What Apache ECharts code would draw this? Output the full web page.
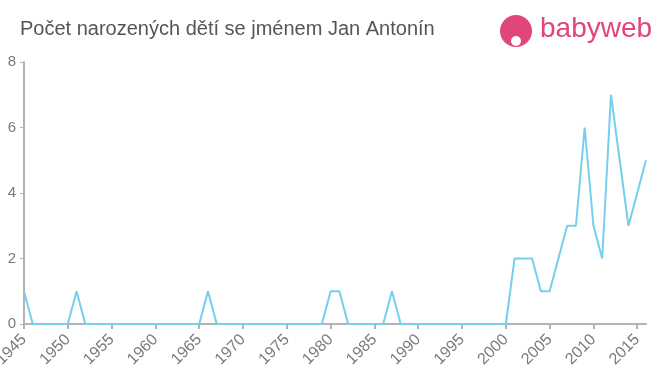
<!DOCTYPE html>
<html>
<head>
<meta charset="utf-8">
<script src="https://cdn.jsdelivr.net/npm/echarts@6/dist/echarts.min.js"></script>
<style>
html,body{margin:0;padding:0;background:#fff;}
#chart{width:660px;height:375px;}
</style>
</head>
<body>
<div id="chart"></div>
<script>
const years = [1945,1946,1947,1948,1949,1950,1951,1952,1953,1954,1955,1956,1957,1958,1959,1960,1961,1962,1963,1964,1965,1966,1967,1968,1969,1970,1971,1972,1973,1974,1975,1976,1977,1978,1979,1980,1981,1982,1983,1984,1985,1986,1987,1988,1989,1990,1991,1992,1993,1994,1995,1996,1997,1998,1999,2000,2001,2002,2003,2004,2005,2006,2007,2008,2009,2010,2011,2012,2013,2014,2015,2016];
const counts = [1,0,0,0,0,0,1,0,0,0,0,0,0,0,0,0,0,0,0,0,0,1,0,0,0,0,0,0,0,0,0,0,0,0,0,1,1,0,0,0,0,0,1,0,0,0,0,0,0,0,0,0,0,0,0,0,2,2,2,1,1,2,3,3,6,3,2,7,5,3,4,5];
const titleText = 'Počet narozených dětí se jménem Jan Antonín';
const logoText = 'babyweb';

const chart = echarts.init(document.getElementById('chart'));
chart.setOption({
  animation: false,
  title: {
    text: titleText, left: 15, top: 14,
    textStyle: {fontFamily: 'Liberation Sans, Arial, sans-serif', fontSize: 20, fontWeight: 'normal', color: '#555'}
  },
  graphic: [
    {type: 'circle', shape: {cx: 516, cy: 31, r: 16}, style: {fill: '#e0457b'}},
    {type: 'circle', shape: {cx: 516, cy: 41, r: 5}, style: {fill: '#fff'}},
    {type: 'text', left: 540, top: 15, style: {text: logoText, fontFamily: 'Liberation Sans, Arial, sans-serif', fontSize: 28, fill: '#e0457b'}}
  ],
  grid: {left: 24, right: 14, top: 62, bottom: 51, containLabel: false, outerBoundsMode: 'none'},
  xAxis: {
    type: 'value', min: 1945, max: 2016, interval: 5,
    axisLine: {lineStyle: {color: '#b3b3b3', width: 2}},
    axisTick: {show: true, length: 5, lineStyle: {color: '#b3b3b3', width: 2}},
    splitLine: {show: false},
    axisLabel: {rotate: 45, color: '#7a7a7a', fontSize: 16, fontFamily: 'Liberation Sans, Arial, sans-serif', margin: 13, formatter: v => String(v), showMinLabel: true, showMaxLabel: false, hideOverlap: false}
  },
  yAxis: {
    type: 'value', min: 0, max: 8, interval: 2,
    axisLine: {show: true, lineStyle: {color: '#b3b3b3', width: 2}},
    axisTick: {show: true, length: 4, lineStyle: {color: '#b3b3b3', width: 1}},
    splitLine: {show: false},
    axisLabel: {color: '#7a7a7a', fontSize: 15, fontFamily: 'Liberation Sans, Arial, sans-serif', margin: 8}
  },
  series: [{
    type: 'line',
    data: years.map((y, i) => [y, counts[i]]),
    showSymbol: false,
    lineStyle: {color: '#76cfec', width: 2},
    itemStyle: {color: '#76cfec'}
  }]
});
</script>
</body>
</html>
